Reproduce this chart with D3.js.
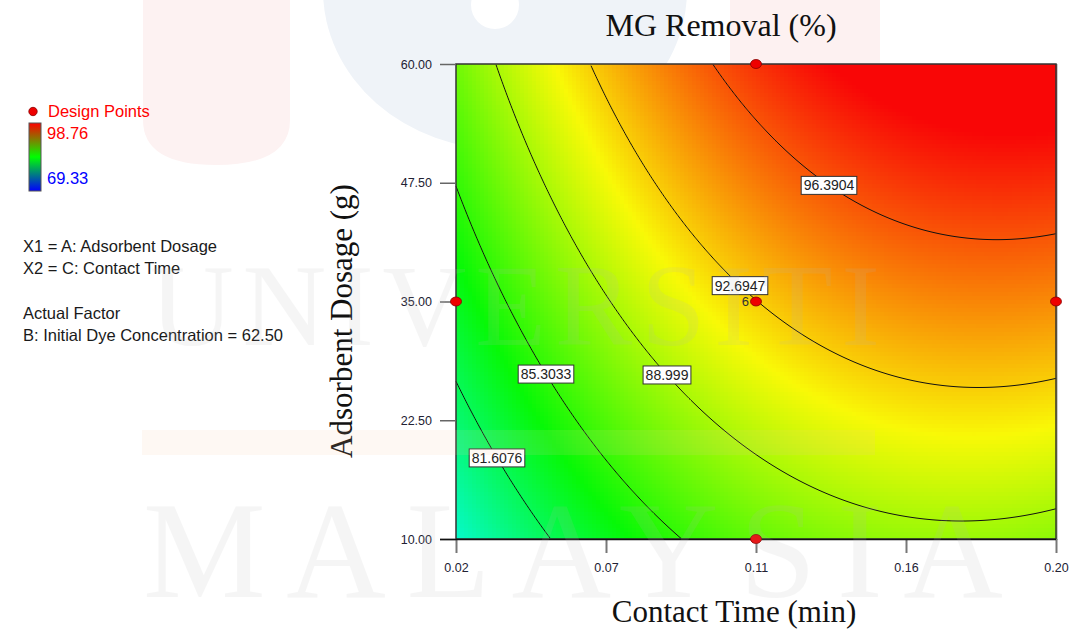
<!DOCTYPE html>
<html>
<head>
<meta charset="utf-8">
<script src="https://cdn.jsdelivr.net/npm/d3@7"></script>
<style>
  body { margin: 0; background: #fff; }
  svg { display: block; }
</style>
</head>
<body>
<svg id="chart"></svg>
<script>
const width = 1073, height = 642

// response range shown by the legend
const respMin = 69.33, respMax = 98.76

// quadratic model in coded units: b0, bTime, bDose, bTime2, bDose2, bTimeDose
// (fitted to points)
const modelCoef = [92.662, 5.749, 5.315, -3.700, -0.573, 0.731]

// factor ranges
const timeRange = [0.02, 0.20]
const doseRange = [10, 60]

// axis ticks
const timeTicks = [0.02, 0.065, 0.11, 0.155, 0.20]
const timeTickLabels = ["0.02", "0.07", "0.11", "0.16", "0.20"]
const doseTicks = [10, 22.5, 35, 47.5, 60]
const doseTickLabels = ["10.00", "22.50", "35.00", "47.50", "60.00"]

// contour levels and where along the time axis their labels sit
const contourLevels = [81.6076, 85.3033, 88.999, 92.6947, 96.3904]
const labelTimes = [0.0323, 0.047, 0.0833, 0.1052, 0.1319]

// design points
const designTime = [0.11, 0.02, 0.11, 0.20, 0.11]
const designDose = [60, 35, 35, 35, 10]

const svg = d3.select("#chart").attr("width", width).attr("height", height)

const x = d3.scaleLinear().domain(timeRange).range([456, 1056])
const y = d3.scaleLinear().domain(doseRange).range([539, 64])

const codeT = t => (t - 0.11) / 0.09
const codeD = d => (d - 35) / 25

function model(t, d) {
    let A = codeT(t), B = codeD(d)
    let c = modelCoef
    return c[0] + c[1] * A + c[2] * B + c[3] * A * A + c[4] * B * B + c[5] * A * B
}

// dosage on a contour for a given time (root below the maximum in B)
function doseOnLevel(t, level) {
    let A = codeT(t)
    let c = modelCoef
    let qa = c[4], qb = c[2] + c[5] * A, qc = c[0] + c[1] * A + c[3] * A * A - level
    let disc = qb * qb - 4 * qa * qc
    if (disc < 0) return null
    let r1 = (-qb + Math.sqrt(disc)) / (2 * qa)
    let r2 = (-qb - Math.sqrt(disc)) / (2 * qa)
    return 35 + 25 * Math.min(r1, r2)
}

function colorOf(v) {
    let f = Math.max(0, Math.min(1, (v - respMin) / (respMax - respMin)))
    return d3.hsl(240 * (1 - f), 0.95, 0.5) + ""
}

// ---------- background watermark shapes ----------
const wm = svg.append("g")
wm.append("ellipse").attr("cx", 505).attr("cy", -10).attr("rx", 182).attr("ry", 160).attr("fill", "#eff3f8")
wm.append("circle").attr("cx", 495).attr("cy", 5).attr("r", 24).attr("fill", "#fff")
wm.append("path")
    .attr("d", "M143,0 L290,0 L290,120 Q290,165 216,165 Q143,165 143,120 Z")
    .attr("fill", "#fdf2f2")
wm.append("rect").attr("x", 730).attr("y", 0).attr("width", 150).attr("height", 64).attr("fill", "#fdf1f1")

// ---------- filled surface ----------
const nx = 150, ny = 119
const dt = (timeRange[1] - timeRange[0]) / nx
const dd = (doseRange[1] - doseRange[0]) / ny
let cells = []
for (let i = 0; i < nx; i++) {
    for (let j = 0; j < ny; j++) {
        let t0 = timeRange[0] + i * dt
        let d0 = doseRange[0] + j * dd
        cells.push({ t0: t0, d0: d0, v: model(t0 + dt / 2, d0 + dd / 2) })
    }
}
svg.append("g")
    .attr("shape-rendering", "crispEdges")
    .selectAll("rect")
    .data(cells)
    .enter()
    .append("rect")
    .attr("x", d => x(d.t0))
    .attr("y", d => y(d.d0 + dd))
    .attr("width", d => x(d.t0 + dt) - x(d.t0) + 0.6)
    .attr("height", d => y(d.d0) - y(d.d0 + dd) + 0.6)
    .attr("fill", d => colorOf(d.v))

// ---------- contour lines ----------
const samples = d3.range(0, 601).map(i => timeRange[0] + i * (timeRange[1] - timeRange[0]) / 600)
const line = d3.line()
    .defined(p => p.d != null && p.d >= doseRange[0] - 0.01 && p.d <= doseRange[1] + 0.01)
    .x(p => x(p.t))
    .y(p => y(p.d))

svg.append("g")
    .selectAll("path")
    .data(contourLevels)
    .enter()
    .append("path")
    .attr("d", lev => line(samples.map(t => ({ t: t, d: doseOnLevel(t, lev) }))))
    .attr("fill", "none")
    .attr("stroke", "#111")
    .attr("stroke-width", 1)

// ---------- frame ----------
svg.append("line").attr("x1", 1057).attr("x2", 1057).attr("y1", 64).attr("y2", 540)
    .attr("stroke", "#999").attr("stroke-width", 1)
svg.append("rect")
    .attr("x", x(timeRange[0])).attr("y", y(doseRange[1]))
    .attr("width", x(timeRange[1]) - x(timeRange[0]))
    .attr("height", y(doseRange[0]) - y(doseRange[1]))
    .attr("fill", "none").attr("stroke", "#333").attr("stroke-width", 1.5)

// ---------- axes ----------
const xAxis = svg.append("g")
    .attr("transform", "translate(0,539)")
    .call(d3.axisBottom(x).tickValues(timeTicks).tickFormat((d, i) => timeTickLabels[i]).tickSize(14).tickPadding(10))
xAxis.select(".domain").remove()
xAxis.selectAll(".tick line").attr("stroke", "#777").attr("stroke-width", 2)
xAxis.selectAll(".tick text").attr("font-family", "Liberation Sans, Arial, sans-serif")
    .attr("font-size", 12.5).attr("fill", "#223")

const yAxis = svg.append("g")
    .attr("transform", "translate(456,0)")
    .call(d3.axisLeft(y).tickValues(doseTicks).tickFormat((d, i) => doseTickLabels[i]).tickSize(16).tickPadding(8))
yAxis.select(".domain").remove()
yAxis.selectAll(".tick line").attr("stroke", "#666").attr("stroke-width", 1.5)
yAxis.selectAll(".tick text").attr("font-family", "Liberation Sans, Arial, sans-serif")
    .attr("font-size", 12.5).attr("fill", "#223")

// bottom border reaches the 10.00 tick
svg.append("line").attr("x1", 440).attr("x2", 1056).attr("y1", 539.5).attr("y2", 539.5)
    .attr("stroke", "#111").attr("stroke-width", 1.5)

// ---------- contour labels ----------
const labels = svg.append("g")
contourLevels.forEach((lev, i) => {
    let t = labelTimes[i]
    let d = doseOnLevel(t, lev)
    let g = labels.append("g").attr("transform", "translate(" + x(t) + "," + y(d) + ")")
    let rect = g.append("rect").attr("fill", "#fff").attr("stroke", "#333").attr("stroke-width", 1)
    let txt = g.append("text")
        .attr("text-anchor", "middle")
        .attr("dy", "0.36em")
        .attr("font-family", "Liberation Sans, Arial, sans-serif")
        .attr("font-size", 14)
        .attr("fill", "#222")
        .text(lev)
    let w = txt.node().getComputedTextLength() + 5
    rect.attr("x", -w / 2).attr("y", -9).attr("width", w).attr("height", 18)
})

// replicate count at the centre point
svg.append("text")
    .attr("x", x(0.11) - 7).attr("y", y(35) + 4)
    .attr("text-anchor", "end")
    .attr("font-family", "Liberation Sans, Arial, sans-serif")
    .attr("font-size", 13)
    .attr("fill", "#333")
    .text("6")

// ---------- design points ----------
svg.append("g")
    .selectAll("ellipse")
    .data(designTime.map((t, i) => ({ t: t, d: designDose[i] })))
    .enter()
    .append("ellipse")
    .attr("cx", p => x(p.t))
    .attr("cy", p => y(p.d))
    .attr("rx", 5.5).attr("ry", 4.5)
    .attr("fill", "#ee0000")
    .attr("stroke", "#880000")
    .attr("stroke-width", 0.8)

// ---------- titles ----------
svg.append("text")
    .attr("x", 721).attr("y", 36)
    .attr("text-anchor", "middle")
    .attr("font-family", "Liberation Serif, Times New Roman, serif")
    .attr("font-size", 32).attr("fill", "#111")
    .text("MG Removal (%)")

svg.append("text")
    .attr("x", 734).attr("y", 622)
    .attr("text-anchor", "middle")
    .attr("font-family", "Liberation Serif, Times New Roman, serif")
    .attr("font-size", 31).attr("fill", "#111")
    .text("Contact Time (min)")

svg.append("text")
    .attr("transform", "translate(352,321) rotate(-90)")
    .attr("text-anchor", "middle")
    .attr("font-family", "Liberation Serif, Times New Roman, serif")
    .attr("font-size", 31).attr("fill", "#111")
    .text("Adsorbent Dosage (g)")

// ---------- legend ----------
const defs = svg.append("defs")
const grad = defs.append("linearGradient").attr("id", "legendGrad")
    .attr("x1", 0).attr("y1", 0).attr("x2", 0).attr("y2", 1)
grad.append("stop").attr("offset", "0%").attr("stop-color", "#ff0000")
grad.append("stop").attr("offset", "50%").attr("stop-color", "#00ff00")
grad.append("stop").attr("offset", "100%").attr("stop-color", "#0000ff")

const leg = svg.append("g").attr("font-family", "Liberation Sans, Arial, sans-serif")
leg.append("circle").attr("cx", 33).attr("cy", 111.5).attr("r", 4.2)
    .attr("fill", "#ee0000").attr("stroke", "#880000").attr("stroke-width", 0.8)
leg.append("text").attr("x", 48).attr("y", 117).attr("font-size", 16.5).attr("fill", "#ff0000").text("Design Points")
leg.append("rect").attr("x", 29).attr("y", 123).attr("width", 12).attr("height", 68)
    .attr("fill", "url(#legendGrad)").attr("stroke", "#555").attr("stroke-width", 1)
leg.append("text").attr("x", 47).attr("y", 139).attr("font-size", 16.5).attr("fill", "#ff0000").text(respMax.toFixed(2))
leg.append("text").attr("x", 47).attr("y", 184).attr("font-size", 16.5).attr("fill", "#0000ff").text(respMin.toFixed(2))

const info = ["X1 = A: Adsorbent Dosage", "X2 = C: Contact Time", "", "Actual Factor",
    "B: Initial Dye Concentration = 62.50"]
leg.selectAll(".info")
    .data(info)
    .enter()
    .append("text")
    .attr("class", "info")
    .attr("x", 23)
    .attr("y", (d, i) => 252 + i * 22.3)
    .attr("font-size", 16.5)
    .attr("fill", "#1a1a1a")
    .text(d => d)

// ---------- faded watermark overlay ----------
const over = svg.append("g").attr("pointer-events", "none")
over.append("rect").attr("x", 142).attr("y", 430).attr("width", 733).attr("height", 25)
    .attr("fill", "#f5c9a0").attr("opacity", 0.13)
over.append("text")
    .attr("x", 150).attr("y", 345)
    .attr("textLength", 730).attr("lengthAdjust", "spacing")
    .attr("font-family", "Liberation Serif, Times New Roman, serif")
    .attr("font-size", 116)
    .attr("fill", "#b8b8b8").attr("opacity", 0.13)
    .text("UNIVERSITI")
over.append("text")
    .attr("x", 143).attr("y", 597)
    .attr("textLength", 860).attr("lengthAdjust", "spacing")
    .attr("font-family", "Liberation Serif, Times New Roman, serif")
    .attr("font-size", 138)
    .attr("fill", "#b8b8b8").attr("opacity", 0.13)
    .text("MALAYSIA")
</script>
</body>
</html>
